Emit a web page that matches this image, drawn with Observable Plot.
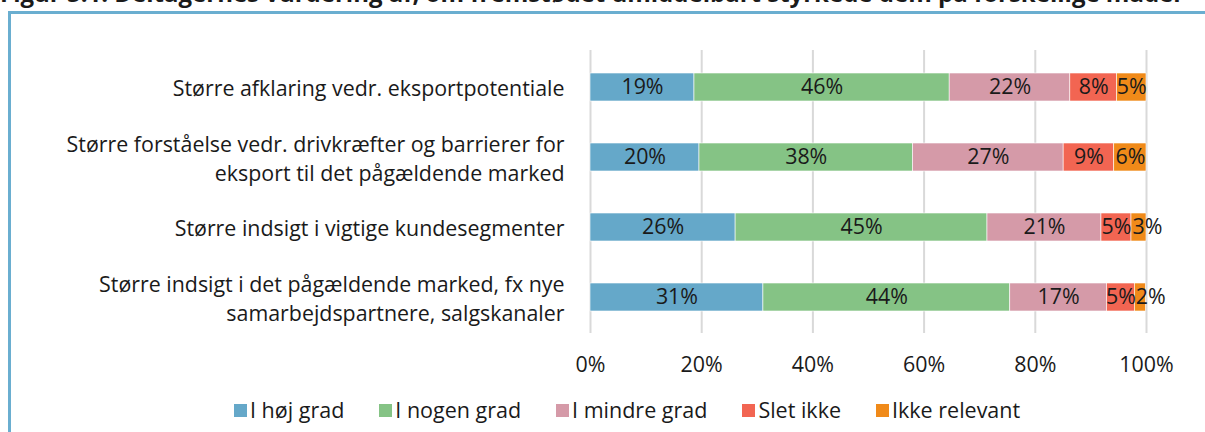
<!DOCTYPE html>
<html>
<head>
<meta charset="utf-8">
<script src="https://cdn.jsdelivr.net/npm/d3@7"></script>
<script src="https://cdn.jsdelivr.net/npm/@observablehq/plot@0.6"></script>
<style>
  html, body { margin: 0; padding: 0; background: #fff; overflow: hidden; }
  body { width: 1205px; height: 432px; position: relative; font-family: "Open Sans", sans-serif; color: #1a1a1a; }
  #title { position: absolute; left: 0; top: -24px; white-space: nowrap; font-weight: bold; font-size: 24px; color: #1a1a1a; }
  #frame { position: absolute; left: 8px; top: 11px; width: 1300px; height: 500px; border: 3px solid #6aaed0; box-sizing: border-box; }
  #chart { position: absolute; left: 0; top: 0; }
  #legend { position: absolute; top: 395px; left: 234px; display: flex; font-size: 21.5px; white-space: nowrap; line-height: 30px; }
  .item { display: flex; align-items: center; margin-right: 35px; }
  .sw { width: 13px; height: 13px; margin-right: 3px; }
</style>
</head>
<body>
<div id="title">Figur 5.1: Deltagernes vurdering af, om fremstødet umiddelbart styrkede dem på forskellige måder</div>
<div id="frame"></div>
<div id="chart"></div>
<div id="legend"></div>
<script>
const items = [
  "Større afklaring vedr. eksportpotentiale",
  "Større forståelse vedr. drivkræfter og barrierer for\neksport til det pågældende marked",
  "Større indsigt i vigtige kundesegmenter",
  "Større indsigt i det pågældende marked, fx nye\nsamarbejdspartnere, salgskanaler"
];
const categories = ["I høj grad", "I nogen grad", "I mindre grad", "Slet ikke", "Ikke relevant"];
const colors = ["#65a8c9", "#85c385", "#d59aa8", "#f26552", "#f08a19"];
// percentages per category (rows follow items order)
const hoejGrad     = [18.7, 19.6, 26.1, 31.1];
const nogenGrad    = [45.9, 38.4, 45.3, 44.4];
const mindreGrad   = [21.7, 27.1, 20.5, 17.4];
const sletIkke     = [8.4, 9.1, 5.4, 5.0];
const ikkeRelevant = [5.3, 5.8, 2.7, 2.0];
const xTicks = [0, 20, 40, 60, 80, 100];

const series = [hoejGrad, nogenGrad, mindreGrad, sletIkke, ikkeRelevant];
const data = [];
items.forEach((it, i) => categories.forEach((c, j) => data.push({item: it, cat: c, value: series[j][i]})));

const small = d => d.value < 3.5;
const lab = d => Math.round(d.value) + "%";
const FS = 21.4;

const plot = Plot.plot({
  width: 1205,
  height: 385,
  marginLeft: 590,
  marginRight: 59,
  marginTop: 50,
  marginBottom: 52,
  style: {fontFamily: "Open Sans", fontSize: FS + "px", color: "#1a1a1a", background: "transparent"},
  x: {domain: [0, 100], ticks: xTicks, label: null},
  y: {domain: items, paddingInner: 0.6, paddingOuter: 0.3, axis: null},
  color: {domain: categories, range: colors},
  marks: [
    Plot.gridX(xTicks, {stroke: "#d9d9d9", strokeOpacity: 1, strokeWidth: 2}),
    Plot.axisX(xTicks, {tickSize: 0, tickPadding: 23, tickFormat: d => d + "%", fontSize: FS, label: null}),
    Plot.barX(data, Plot.stackX({x: "value", y: "item", z: "cat", fill: "cat", order: categories, stroke: "#fff", strokeWidth: 0.6})),
    Plot.textX(data, Plot.stackX({x: "value", y: "item", z: "cat", order: categories, text: d => small(d) ? "" : lab(d), fill: "#1a1a1a", fontSize: FS})),
    Plot.textX(data, Plot.stackX1({x: "value", y: "item", z: "cat", order: categories, text: d => small(d) ? lab(d) : "", textAnchor: "start", dx: 1, fill: "#1a1a1a", fontSize: FS})),
    Plot.text(items, {x: 0, y: d => d, text: d => d, textAnchor: "end", dx: -26, lineHeight: 1.31, fill: "#1a1a1a", fontSize: FS})
  ]
});
document.getElementById("chart").appendChild(plot);

const leg = document.getElementById("legend");
categories.forEach((c, i) => {
  const el = document.createElement("div");
  el.className = "item";
  el.innerHTML = `<span class="sw" style="background:${colors[i]}"></span><span>${c}</span>`;
  leg.appendChild(el);
});
</script>
</body>
</html>
